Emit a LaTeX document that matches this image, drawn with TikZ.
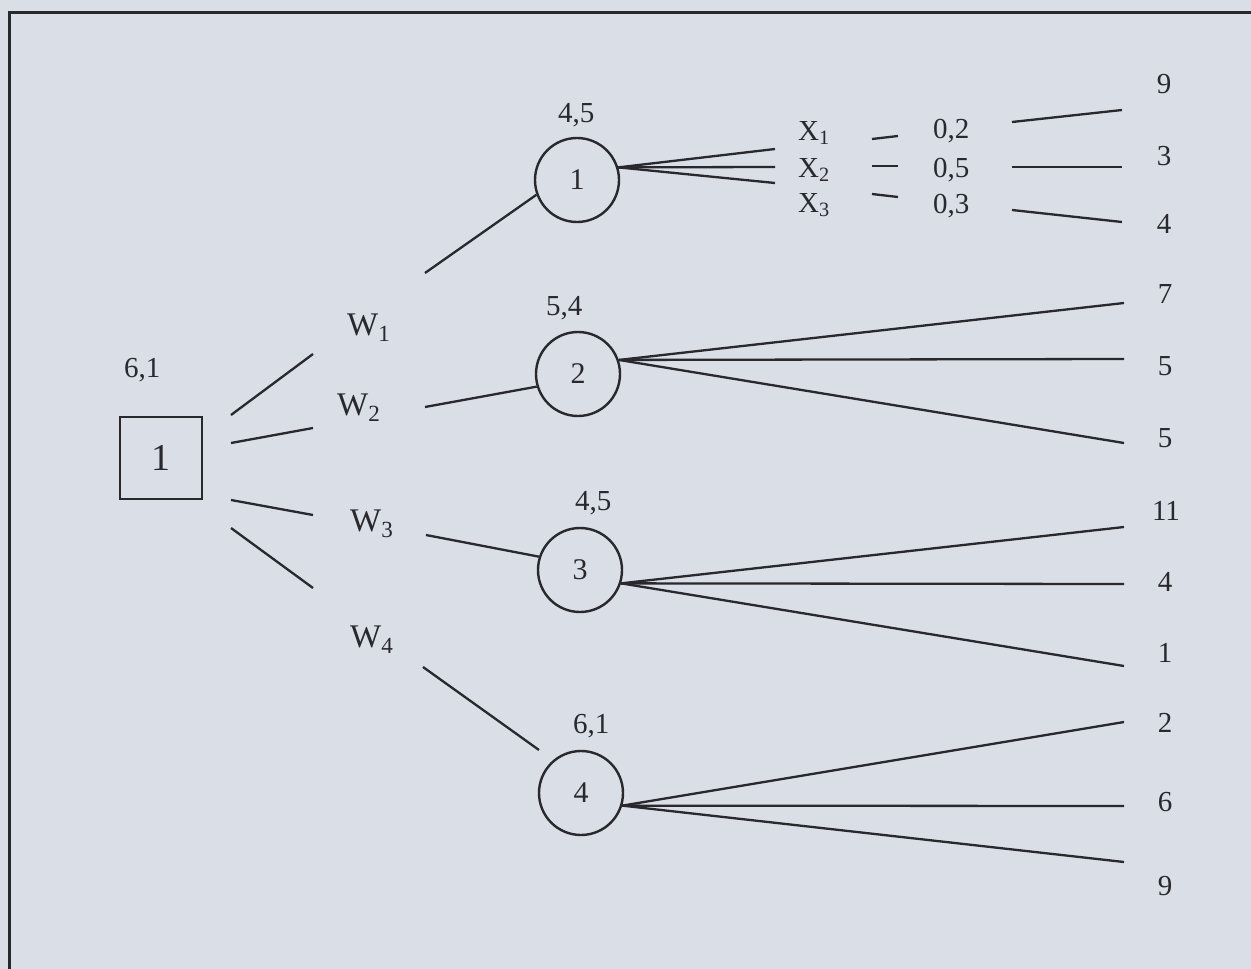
\documentclass[tikz,border=0pt]{standalone}
\usepackage{fontspec}
\setmainfont{Liberation Serif}
\definecolor{paper}{RGB}{217,222,231}
\definecolor{ink}{RGB}{40,40,45}
\begin{document}
\begin{tikzpicture}[x=1pt,y=-1pt,
  every node/.style={text=ink},
  txt/.style={inner sep=0pt, font=\fontsize{29}{30}\selectfont},
  wlab/.style={inner sep=0pt, anchor=base west, font=\fontsize{33}{35}\selectfont},
  xlab/.style={inner sep=0pt, anchor=base west, font=\fontsize{29}{30}\selectfont},
  val/.style={txt, anchor=base west},
  outc/.style={txt, anchor=base},
  chance/.style={circle, draw=ink, line width=2.4pt, minimum size=84pt, inner sep=0pt, font=\fontsize{30}{32}\selectfont},
  decision/.style={rectangle, draw=ink, line width=2.4pt, minimum size=82pt, inner sep=0pt, font=\fontsize{38}{40}\selectfont},
  edge/.style={draw=ink, line width=2.3pt},
  frame/.style={draw=ink, line width=3pt}]
\fill[paper] (0,0) rectangle (1251,969);
\useasboundingbox (0,0) rectangle (1251,969);
\draw[frame] (9,975) -- (9,12) -- (1260,12);

% decision node
\node[decision] (sq) at (161,458) {1};
\node[val] (v0) at (124,377) {6,1};

% strategy labels
\node[wlab] (w1) at (347,335) {W\textsubscript{1}};
\node[wlab] (w2) at (337,415) {W\textsubscript{2}};
\node[wlab] (w3) at (350,531) {W\textsubscript{3}};
\node[wlab] (w4) at (350,647) {W\textsubscript{4}};

% chance nodes
\node[chance] (c1) at (577,180) {1};
\node[chance] (c2) at (578,374) {2};
\node[chance] (c3) at (580,570) {3};
\node[chance] (c4) at (581,793) {4};
\node[val] (v1) at (558,122) {4,5};
\node[val] (v2) at (546,315) {5,4};
\node[val] (v3) at (575,510) {4,5};
\node[val] (v4) at (573,733) {6,1};

% square to W lines
\coordinate (s1a) at (231,415); \coordinate (s1b) at (313,354);
\coordinate (s2a) at (231,443); \coordinate (s2b) at (313,428);
\coordinate (s3a) at (231,500); \coordinate (s3b) at (313,515);
\coordinate (s4a) at (231,528); \coordinate (s4b) at (313,588);
\draw[edge] (s1a) -- (s1b);
\draw[edge] (s2a) -- (s2b);
\draw[edge] (s3a) -- (s3b);
\draw[edge] (s4a) -- (s4b);

% W to chance nodes
\coordinate (a1) at (425,273);
\coordinate (a2) at (425,407);
\coordinate (a3) at (426,535);
\coordinate (a4) at (423,667); \coordinate (b4) at (539,750);
\draw[edge] (a1) -- (c1.200);
\draw[edge] (a2) -- (c2.197);
\draw[edge] (a3) -- (c3.162);
\draw[edge] (a4) -- (b4);

% branch of chance node 1
\coordinate (e11) at (775,149);
\coordinate (e12) at (775,167);
\coordinate (e13) at (775,183);
\draw[edge] (c1.17) -- (e11);
\draw[edge] (c1.17) -- (e12);
\draw[edge] (c1.17) -- (e13);
\node[xlab] (x1) at (798,140) {X\textsubscript{1}};
\node[xlab] (x2) at (798,177) {X\textsubscript{2}};
\node[xlab] (x3) at (798,212) {X\textsubscript{3}};
\coordinate (d1a) at (872,139); \coordinate (d1b) at (898,136);
\coordinate (d2a) at (872,166); \coordinate (d2b) at (898,166);
\coordinate (d3a) at (872,194); \coordinate (d3b) at (898,197);
\draw[edge] (d1a) -- (d1b);
\draw[edge] (d2a) -- (d2b);
\draw[edge] (d3a) -- (d3b);
\node[val] (p1) at (933,138) {0,2};
\node[val] (p2) at (933,177) {0,5};
\node[val] (p3) at (933,213) {0,3};
\coordinate (f1a) at (1012,122); \coordinate (f1b) at (1122,110);
\coordinate (f2a) at (1012,167); \coordinate (f2b) at (1122,167);
\coordinate (f3a) at (1012,210); \coordinate (f3b) at (1122,222);
\draw[edge] (f1a) -- (f1b);
\draw[edge] (f2a) -- (f2b);
\draw[edge] (f3a) -- (f3b);
\node[outc] (o11) at (1164,93) {9};
\node[outc] (o12) at (1164,165) {3};
\node[outc] (o13) at (1164,233) {4};

% branch of chance node 2
\coordinate (e21) at (1124,303);
\coordinate (e22) at (1124,359);
\coordinate (e23) at (1124,443);
\draw[edge] (c2.19) -- (e21);
\draw[edge] (c2.19) -- (e22);
\draw[edge] (c2.19) -- (e23);
\node[outc] (o21) at (1165,303) {7};
\node[outc] (o22) at (1165,375) {5};
\node[outc] (o23) at (1165,447) {5};

% branch of chance node 3
\coordinate (e31) at (1124,527);
\coordinate (e32) at (1124,584);
\coordinate (e33) at (1124,666);
\draw[edge] (c3.-18) -- (e31);
\draw[edge] (c3.-18) -- (e32);
\draw[edge] (c3.-18) -- (e33);
\node[outc] (o31) at (1166,520) {11};
\node[outc] (o32) at (1165,591) {4};
\node[outc] (o33) at (1165,662) {1};

% branch of chance node 4
\coordinate (e41) at (1124,722);
\coordinate (e42) at (1124,806);
\coordinate (e43) at (1124,862);
\draw[edge] (c4.-17) -- (e41);
\draw[edge] (c4.-17) -- (e42);
\draw[edge] (c4.-17) -- (e43);
\node[outc] (o41) at (1165,732) {2};
\node[outc] (o42) at (1165,811) {6};
\node[outc] (o43) at (1165,895) {9};
\end{tikzpicture}
\end{document}
